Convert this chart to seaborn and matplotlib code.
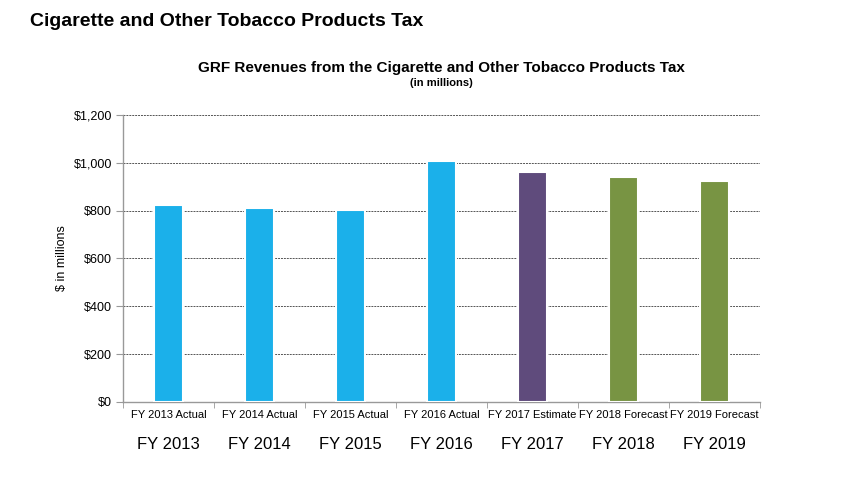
import numpy as np
import pandas as pd
import matplotlib
matplotlib.use("Agg")
import matplotlib.pyplot as plt
import seaborn as sns
from matplotlib.ticker import FixedLocator, FuncFormatter

categories = ["FY 2013 Actual", "FY 2014 Actual", "FY 2015 Actual", "FY 2016 Actual",
              "FY 2017 Estimate", "FY 2018 Forecast", "FY 2019 Forecast"]
years = ["FY 2013", "FY 2014", "FY 2015", "FY 2016", "FY 2017", "FY 2018", "FY 2019"]
revenues = [823, 811, 803, 1007, 961, 941, 924]
bar_colors = ["#1BB0EA", "#1BB0EA", "#1BB0EA", "#1BB0EA", "#5F4B7C", "#789443", "#789443"]

df = pd.DataFrame({"category": categories, "revenue": revenues})

sns.set_style("white")
plt.rcParams["font.family"] = ["Liberation Sans", "DejaVu Sans"]
plt.rcParams["text.color"] = "black"
plt.rcParams["xtick.color"] = "black"
plt.rcParams["ytick.color"] = "black"
plt.rcParams["axes.labelcolor"] = "black"

fig = plt.figure(figsize=(8.49, 4.79), dpi=100)
ax = fig.add_axes([0.145, 0.161, 0.750, 0.599])

sns.barplot(data=df, x="category", y="revenue", hue="category",
            palette=bar_colors, legend=False, width=0.32, saturation=1,
            edgecolor="white", linewidth=1.5, ax=ax, zorder=3)

ax.set_ylim(0, 1200)
ax.set_xlim(-0.5, len(categories) - 0.5)
ax.yaxis.set_major_locator(FixedLocator(np.arange(0, 1201, 200)))
ax.yaxis.set_major_formatter(FuncFormatter(lambda v, p: f"${v:,.0f}"))
ax.grid(axis="y", color="#555555", linestyle=(0, (2, 1)), linewidth=0.7, zorder=0)
ax.set_axisbelow(True)

for s in ["top", "right"]:
    ax.spines[s].set_visible(False)
for s in ["left", "bottom"]:
    ax.spines[s].set_color("#999999")
    ax.spines[s].set_linewidth(1)

ax.tick_params(axis="y", which="major", length=5, color="#999999", direction="out",
               labelsize=9, left=True, pad=3)
ax.tick_params(axis="x", which="major", length=0, labelsize=8, pad=6)
ax.xaxis.set_minor_locator(FixedLocator(np.arange(-0.5, len(categories), 1.0)))
ax.tick_params(axis="x", which="minor", length=4, color="#999999", direction="out", bottom=True)

ax.set_xlabel("")
ax.set_ylabel("$ in millions", fontsize=9, labelpad=4)

fig.text(0.035, 0.955, "Cigarette and Other Tobacco Products Tax", fontsize=14,
         fontweight="bold", ha="left", va="center")
fig.text(0.52, 0.858, "GRF Revenues from the Cigarette and Other Tobacco Products Tax",
         fontsize=11, fontweight="bold", ha="center", va="center")
fig.text(0.52, 0.826, "(in millions)", fontsize=8, fontweight="bold", ha="center", va="center")

for i, y in enumerate(years):
    ax.text(i, -0.15, y, transform=ax.get_xaxis_transform(), fontsize=12,
            ha="center", va="center")

fig.savefig("out.png", dpi=100)
